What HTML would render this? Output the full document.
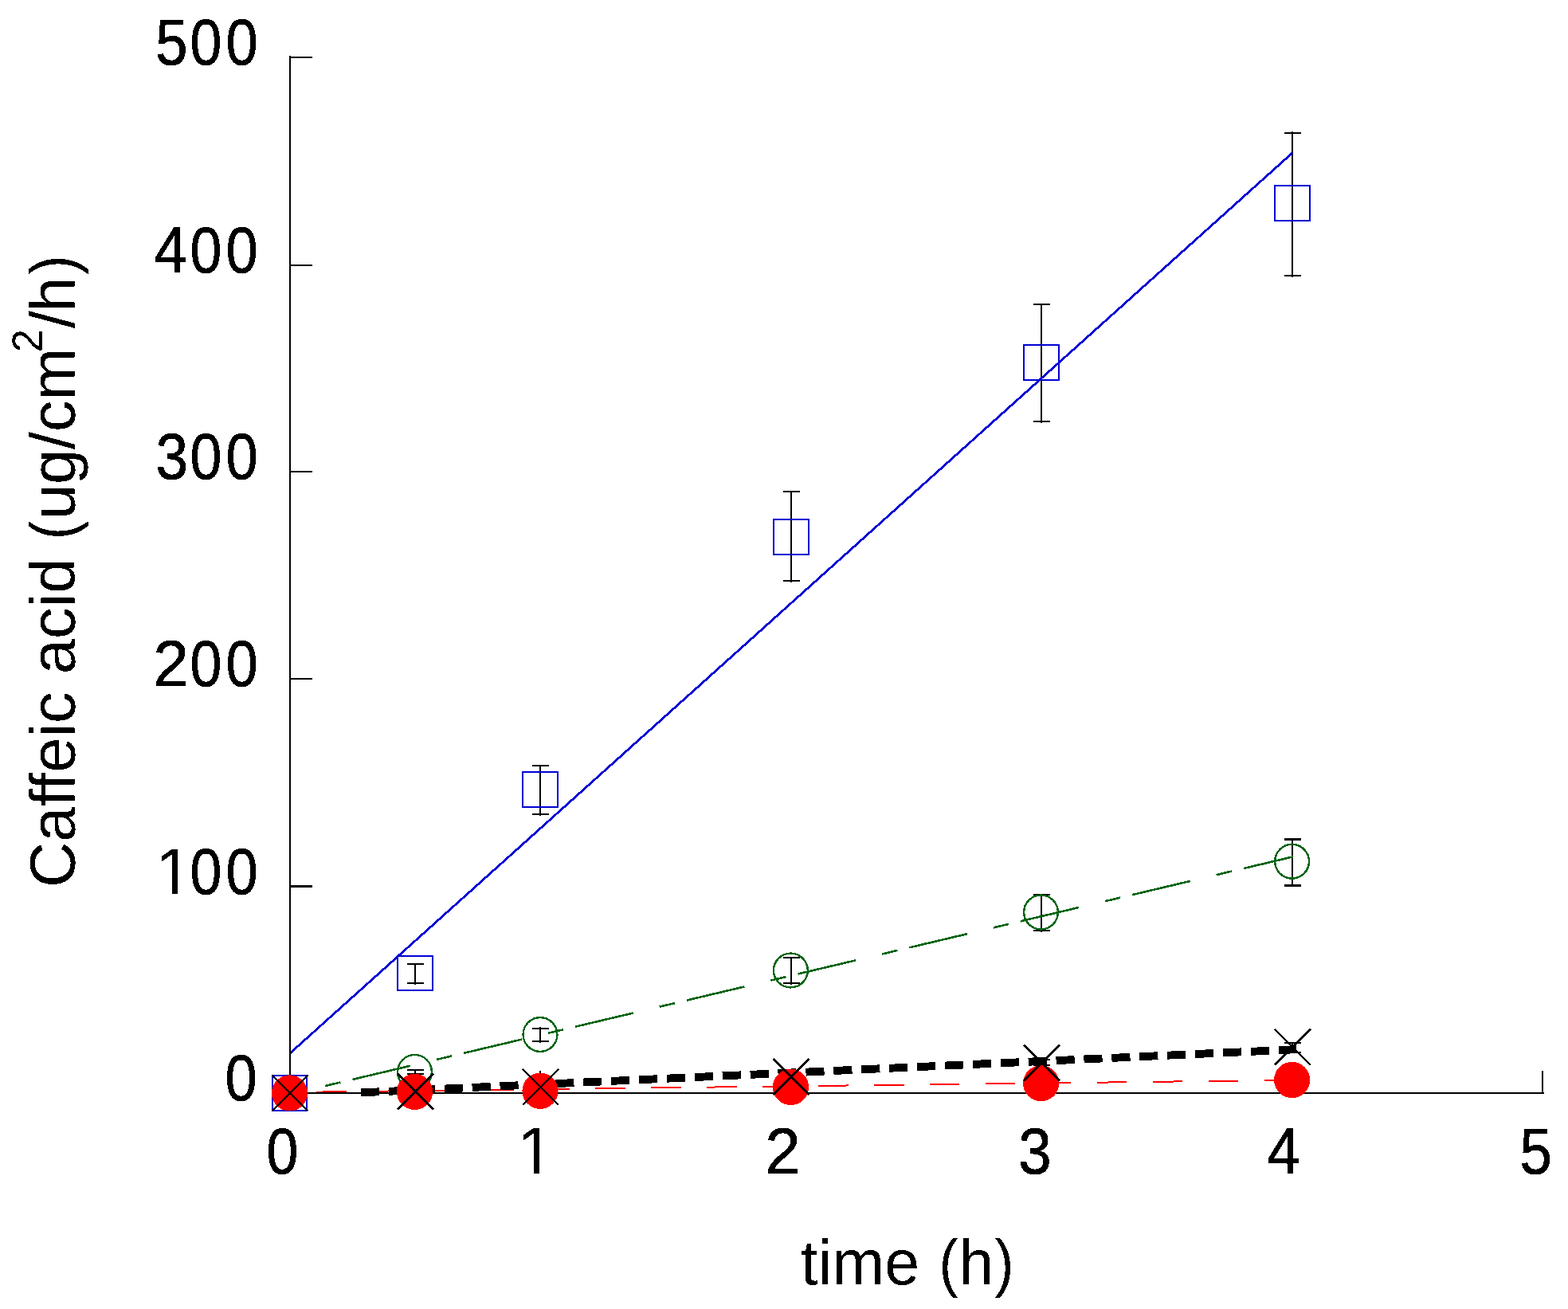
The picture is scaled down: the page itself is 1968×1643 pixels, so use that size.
<!DOCTYPE html>
<html lang="en">
<head>
<meta charset="utf-8">
<title>Caffeic acid permeation vs time</title>
<style>
html,body{margin:0;padding:0;background:#fff;}
body{width:1968px;height:1643px;}
svg{display:block;}
text{font-family:"Liberation Sans", Arial, Helvetica, sans-serif;font-size:80px;fill:#000;}
.num text{stroke:#000;stroke-width:0.8;}
</style>
</head>
<body>
<svg width="1968" height="1643" viewBox="0 0 1968 1643" shape-rendering="crispEdges">
<defs><filter id="crisp" x="-5%" y="-5%" width="110%" height="110%" color-interpolation-filters="sRGB"><feComponentTransfer><feFuncA type="discrete" tableValues="0 1"/></feComponentTransfer></filter></defs>
<rect x="0" y="0" width="1968" height="1643" fill="#ffffff"/>
<g id="errorbars">
<g fill="#000"><rect x="520.0" y="1208.5" width="2" height="27.0"/><rect x="510.5" y="1209.0" width="21.0" height="2"/><rect x="510.5" y="1233.0" width="21.0" height="2"/></g>
<g fill="#000"><rect x="677.0" y="959.5" width="2" height="64.0"/><rect x="667.5" y="960.0" width="21.0" height="2"/><rect x="667.5" y="1021.0" width="21.0" height="2"/></g>
<g fill="#000"><rect x="992.0" y="615.5" width="2" height="115.0"/><rect x="982.5" y="616.0" width="21.0" height="2"/><rect x="982.5" y="728.0" width="21.0" height="2"/></g>
<g fill="#000"><rect x="1306.0" y="380.5" width="2" height="150.0"/><rect x="1296.5" y="381.0" width="21.0" height="2"/><rect x="1296.5" y="528.0" width="21.0" height="2"/></g>
<g fill="#000"><rect x="1621.0" y="165.0" width="2" height="182.5"/><rect x="1611.5" y="165.5" width="21.0" height="2"/><rect x="1611.5" y="345.0" width="21.0" height="2"/></g>
<g fill="#000"><rect x="520.0" y="1341.5" width="2" height="8.0"/><rect x="510.5" y="1342.0" width="21.0" height="2"/><rect x="510.5" y="1347.0" width="21.0" height="2"/></g>
<g fill="#000"><rect x="677.0" y="1289.0" width="2" height="19.5"/><rect x="667.5" y="1289.5" width="21.0" height="2"/><rect x="667.5" y="1306.0" width="21.0" height="2"/></g>
<g fill="#000"><rect x="992.0" y="1200.5" width="2" height="35.0"/><rect x="982.5" y="1201.0" width="21.0" height="2"/><rect x="982.5" y="1233.0" width="21.0" height="2"/></g>
<g fill="#000"><rect x="1306.0" y="1121.5" width="2" height="48.0"/><rect x="1296.5" y="1122.0" width="21.0" height="2"/><rect x="1296.5" y="1167.0" width="21.0" height="2"/></g>
<g fill="#000"><rect x="1621.0" y="1052.0" width="2" height="61.0"/><rect x="1611.5" y="1052.0" width="21.0" height="3"/><rect x="1611.5" y="1110.0" width="21.0" height="3"/></g>
<g fill="#000"><rect x="1306.0" y="1328.5" width="2" height="10.0"/><rect x="1296.5" y="1329.0" width="21.0" height="2"/><rect x="1296.5" y="1336.0" width="21.0" height="2"/></g>
<g fill="#000"><rect x="1621.0" y="1307.5" width="2" height="14.5"/><rect x="1611.5" y="1308.0" width="21.0" height="2"/><rect x="1611.5" y="1319.5" width="21.0" height="2"/></g>
</g>
<g id="fits" fill="none">
<line x1="364" y1="1322" x2="1622.5" y2="191.5" stroke="#0000d4" stroke-width="2.8"/>
<line x1="364" y1="1373.5" x2="1623" y2="1075.3" stroke="#006411" stroke-width="2.6" stroke-dasharray="74.61 33.91 19.73 15.42" stroke-dashoffset="63.1"/>
<line x1="364" y1="1371" x2="1622" y2="1355.7" stroke="#ff0000" stroke-width="2" stroke-dasharray="37.7 32.26" stroke-dashoffset="36.66"/>
<line x1="453" y1="1371.4" x2="1627" y2="1317.2" stroke="#000" stroke-width="9.9" stroke-dasharray="23.1 11.84"/>
</g>
<g id="axes" fill="#000">
<rect x="363" y="70" width="2" height="1303"/>
<rect x="363" y="1371" width="1575" height="2"/>
<rect x="365" y="71" width="27" height="2"/>
<rect x="365" y="332" width="27" height="2"/>
<rect x="365" y="591" width="27" height="2"/>
<rect x="365" y="851" width="27" height="2"/>
<rect x="365" y="1111" width="27" height="3"/>
<rect x="677" y="1344" width="2" height="27"/>
<rect x="992" y="1344" width="2" height="27"/>
<rect x="1306" y="1344" width="2" height="27"/>
<rect x="1621" y="1344" width="2" height="27"/>
<rect x="1935" y="1344" width="2" height="27"/>
</g>
<g id="squares" fill="none" stroke="#0000d4" stroke-width="2">
<rect x="341.75" y="1350.25" width="43.5" height="43.5"/>
<rect x="499.25" y="1199.75" width="43.5" height="43.5"/>
<rect x="656.25" y="969.25" width="43.5" height="43.5"/>
<rect x="971.25" y="652.25" width="43.5" height="43.5"/>
<rect x="1285.25" y="433.25" width="43.5" height="43.5"/>
<rect x="1600.25" y="233.25" width="43.5" height="43.5"/>
</g>
<g id="circles" fill="none" stroke="#006411" stroke-width="2.4">
<circle cx="520.5" cy="1345.4" r="21.4"/>
<circle cx="678.0" cy="1298.5" r="21.4"/>
<circle cx="992.4" cy="1218.0" r="21.4"/>
<circle cx="1306.5" cy="1145.0" r="21.4"/>
<circle cx="1621.6" cy="1081.2" r="21.4"/>
</g>
<g id="dots" fill="#ff0000">
<circle cx="363.5" cy="1372.0" r="22.6"/>
<circle cx="520.5" cy="1370.4" r="22.6"/>
<circle cx="678.0" cy="1369.3" r="22.6"/>
<circle cx="992.5" cy="1364.5" r="22.6"/>
<circle cx="1306.6" cy="1359.7" r="22.6"/>
<circle cx="1621.6" cy="1355.5" r="22.6"/>
</g>
<g id="crosses" fill="none" stroke="#000" stroke-width="2.7">
<path d="M341.5 1349.5L386.5 1394.5M341.5 1394.5L386.5 1349.5"/>
<path d="M499.0 1347.5L544.0 1392.5M499.0 1392.5L544.0 1347.5"/>
<path d="M656.0 1342.0L701.0 1387.0M656.0 1387.0L701.0 1342.0"/>
<path d="M970.5 1329.0L1015.5 1374.0M970.5 1374.0L1015.5 1329.0"/>
<path d="M1285.0 1311.3L1330.0 1356.3M1285.0 1356.3L1330.0 1311.3"/>
<path d="M1599.9 1291.9L1644.9 1336.9M1599.9 1336.9L1644.9 1291.9"/>
</g>
<g id="labels" filter="url(#crisp)">
<g id="ylabels" class="num">
<text transform="translate(0 81.10) scale(1 1.0110)" y="0"><tspan x="195.29" textLength="40.35" lengthAdjust="spacingAndGlyphs">5</tspan><tspan x="238.59" textLength="39.96" lengthAdjust="spacingAndGlyphs">0</tspan><tspan x="283.48" textLength="40.20" lengthAdjust="spacingAndGlyphs">0</tspan></text>
<text transform="translate(0 342.00) scale(1 1.0110)" y="0"><tspan x="193.60" textLength="41.28" lengthAdjust="spacingAndGlyphs">4</tspan><tspan x="238.59" textLength="39.96" lengthAdjust="spacingAndGlyphs">0</tspan><tspan x="283.48" textLength="40.20" lengthAdjust="spacingAndGlyphs">0</tspan></text>
<text transform="translate(0 601.10) scale(1 1.0110)" y="0"><tspan x="195.52" textLength="40.53" lengthAdjust="spacingAndGlyphs">3</tspan><tspan x="238.59" textLength="39.96" lengthAdjust="spacingAndGlyphs">0</tspan><tspan x="283.48" textLength="40.20" lengthAdjust="spacingAndGlyphs">0</tspan></text>
<text transform="translate(0 861.10) scale(1 1.0110)" y="0"><tspan x="192.21" textLength="44.68" lengthAdjust="spacingAndGlyphs">2</tspan><tspan x="238.59" textLength="39.96" lengthAdjust="spacingAndGlyphs">0</tspan><tspan x="283.48" textLength="40.20" lengthAdjust="spacingAndGlyphs">0</tspan></text>
<clipPath id="one1"><rect x="0" y="1001.9" width="1968" height="112.5"/><rect x="215.71" y="1113.9" width="7.29" height="20"/><rect x="240.84" y="1113.9" width="300" height="20"/></clipPath><g clip-path="url(#one1)"><text transform="translate(0 1121.90) scale(1 1.0110)" y="0"><tspan x="194.96" textLength="45.88" lengthAdjust="spacingAndGlyphs" stroke-width="0">1</tspan><tspan x="238.59" textLength="39.96" lengthAdjust="spacingAndGlyphs">0</tspan><tspan x="283.48" textLength="40.20" lengthAdjust="spacingAndGlyphs">0</tspan></text></g>
<text transform="translate(0 1381.10) scale(1 1.0110)" y="0"><tspan x="282.48" textLength="40.14" lengthAdjust="spacingAndGlyphs">0</tspan></text>
</g>
<g id="xlabels" class="num">
<text transform="translate(0 1473.10) scale(1 1.0110)" y="0"><tspan x="334.51" textLength="39.79" lengthAdjust="spacingAndGlyphs">0</tspan></text>
<clipPath id="one2"><rect x="0" y="1353.0" width="1968" height="112.3"/><rect x="669.75" y="1464.8" width="7.35" height="20"/><rect x="695.08" y="1464.8" width="300" height="20"/></clipPath><g clip-path="url(#one2)"><text transform="translate(0 1473.00) scale(1 1.0370)" y="0"><tspan x="648.86" textLength="46.22" lengthAdjust="spacingAndGlyphs" stroke-width="0">1</tspan></text></g>
<text transform="translate(0 1473.00) scale(1 1.0110)" y="0"><tspan x="960.28" textLength="44.44" lengthAdjust="spacingAndGlyphs">2</tspan></text>
<text transform="translate(0 1473.10) scale(1 1.0110)" y="0"><tspan x="1278.26" textLength="41.41" lengthAdjust="spacingAndGlyphs">3</tspan></text>
<text transform="translate(0 1473.00) scale(1 1.0110)" y="0"><tspan x="1590.38" textLength="41.61" lengthAdjust="spacingAndGlyphs">4</tspan></text>
<text transform="translate(0 1473.10) scale(1 1.0110)" y="0"><tspan x="1907.39" textLength="40.35" lengthAdjust="spacingAndGlyphs">5</tspan></text>
</g>
<text id="xtitle" transform="translate(0 1612) scale(1 0.985)" y="0"><tspan x="1004.80" textLength="149.32" lengthAdjust="spacingAndGlyphs">time</tspan><tspan x="1154.00"> </tspan><tspan x="1178.41" textLength="24.11" lengthAdjust="spacingAndGlyphs">(</tspan><tspan x="1203.69" textLength="43.37" lengthAdjust="spacingAndGlyphs">h</tspan><tspan x="1248.48" textLength="23.99" lengthAdjust="spacingAndGlyphs">)</tspan></text>
<g id="ytitle" transform="translate(93.2 1200) rotate(-90) scale(1 0.985)">
<text y="0"><tspan x="85.89" textLength="246.00" lengthAdjust="spacingAndGlyphs">Caffeic</tspan><tspan x="334.00"> </tspan><tspan x="353.83" textLength="145.44" lengthAdjust="spacingAndGlyphs">acid</tspan><tspan x="499.00"> </tspan><tspan x="522.68" textLength="23.74" lengthAdjust="spacingAndGlyphs">(</tspan><tspan x="547.96" textLength="215.56" lengthAdjust="spacingAndGlyphs">ug/cm</tspan><tspan x="757.44" dy="-41.7" font-size="54.5px" textLength="29.40" lengthAdjust="spacingAndGlyphs">2</tspan><tspan x="788.10" textLength="21.90" lengthAdjust="spacingAndGlyphs" dy="41.7">/</tspan><tspan x="808.21" textLength="44.03" lengthAdjust="spacingAndGlyphs">h</tspan><tspan x="855.27" textLength="24.37" lengthAdjust="spacingAndGlyphs">)</tspan></text>
</g>
</g>
</svg>
</body>
</html>
